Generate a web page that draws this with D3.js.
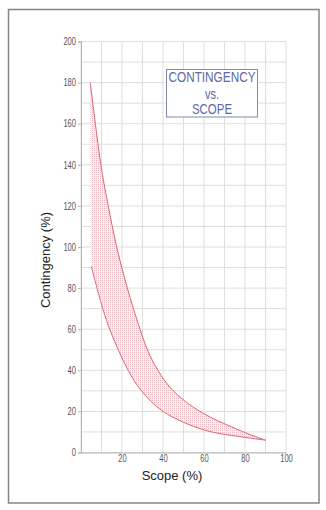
<!DOCTYPE html>
<html>
<head>
<meta charset="utf-8">
<script src="https://cdn.jsdelivr.net/npm/d3@7/dist/d3.min.js"></script>
<style>
  html, body { margin: 0; padding: 0; background: #fff; }
  svg { display: block; }
  .tick text { font-family: "Liberation Sans", Arial, sans-serif; }
</style>
</head>
<body>
<svg id="chart" width="326" height="510"></svg>
<script>
// Upper and lower bounds of contingency (%) against scope definition (%)
const upperScope = [4.5, 10, 13.3, 17.4, 22.6, 28.8, 32.4, 37.5, 45, 58, 80, 90];
const upperContingency = [180, 138, 120, 100, 80, 60, 50, 40, 30, 20, 9.7, 6];
const lowerScope = [5, 10.8, 14.1, 18.2, 23, 29.5, 40, 60, 80, 90];
const lowerContingency = [90.5, 69.4, 59.7, 50, 40, 30, 20, 11, 7.4, 6];

const xTickValues = [20, 40, 60, 80, 100];
const yTickValues = [0, 20, 40, 60, 80, 100, 120, 140, 160, 180, 200];
const titleLines = ["CONTINGENCY", "vs.", "SCOPE"];
const xTitle = "Scope (%)";
const yTitle = "Contingency (%)";

const svg = d3.select("#chart");

// Outer frame
svg.append("rect")
  .attr("x", 8.5).attr("y", 9.5).attr("width", 310.5).attr("height", 493.5)
  .attr("fill", "#fff").attr("stroke", "#858585").attr("stroke-width", 1.5);

const x = d3.scaleLinear().domain([0, 100]).range([81, 286]);
const y = d3.scaleLinear().domain([0, 200]).range([452.5, 41.5]);

// Fine dotted fill for the band
const defs = svg.append("defs");
const pat = defs.append("pattern")
  .attr("id", "hatch").attr("patternUnits", "userSpaceOnUse")
  .attr("width", 2).attr("height", 2);
pat.append("rect").attr("width", 2).attr("height", 2).attr("fill", "#fcf0f2");
pat.append("rect").attr("width", 1).attr("height", 1).attr("fill", "#ecb9c0");

// Grid every 10 units
const grid = svg.append("g");
grid.selectAll("line.v").data(d3.range(0, 101, 10)).join("line")
  .attr("x1", d => x(d)).attr("x2", d => x(d))
  .attr("y1", y(0)).attr("y2", y(200))
  .attr("stroke", "#dedede").attr("stroke-width", 1);
grid.selectAll("line.h").data(d3.range(0, 201, 10)).join("line")
  .attr("x1", x(0)).attr("x2", x(100))
  .attr("y1", d => y(d)).attr("y2", d => y(d))
  .attr("stroke", "#dedede").attr("stroke-width", 1);

// Band between the two bounds
const upperPts = upperScope.map((s, i) => [x(s), y(upperContingency[i])]);
const lowerPts = lowerScope.map((s, i) => [x(s), y(lowerContingency[i])]);
const line = d3.line().curve(d3.curveCatmullRom.alpha(0.5));
const upperPath = line(upperPts);
const lowerRevPath = line(lowerPts.slice().reverse());
svg.append("path")
  .attr("d", upperPath + "L" + lowerRevPath.slice(1) + "Z")
  .attr("fill", "url(#hatch)").attr("stroke", "none");

svg.append("path").attr("d", upperPath)
  .attr("fill", "none").attr("stroke", "#d06a78").attr("stroke-width", 1);
svg.append("path").attr("d", line(lowerPts))
  .attr("fill", "none").attr("stroke", "#d06a78").attr("stroke-width", 1);

// Axes
const yAxis = svg.append("g").attr("transform", `translate(${x(0)},0)`)
  .call(d3.axisLeft(y).tickValues(yTickValues).tickSize(3).tickPadding(2).tickFormat(d3.format("d")));
const xAxis = svg.append("g").attr("transform", `translate(0,${y(0)})`)
  .call(d3.axisBottom(x).tickValues(xTickValues).tickSize(0).tickPadding(2).tickFormat(d3.format("d")));
[yAxis, xAxis].forEach(a => {
  a.select(".domain").attr("stroke", "#b5b5b5");
  a.selectAll(".tick line").attr("stroke", "#b5b5b5");
  a.selectAll(".tick text")
    .attr("fill", "#555").attr("font-size", 10)
    .attr("textLength", function() { return this.textContent.length * 4.2; })
    .attr("lengthAdjust", "spacingAndGlyphs");
});

// Axis titles
svg.append("text")
  .attr("x", 172).attr("y", 480)
  .attr("text-anchor", "middle")
  .attr("font-family", "Liberation Sans, Arial, sans-serif")
  .attr("font-size", 13).attr("fill", "#222")
  .text(xTitle);
svg.append("text")
  .attr("transform", "translate(50,260) rotate(-90)")
  .attr("text-anchor", "middle")
  .attr("font-family", "Liberation Sans, Arial, sans-serif")
  .attr("font-size", 13).attr("fill", "#222")
  .text(yTitle);

// Title box
svg.append("rect")
  .attr("x", 166.5).attr("y", 69.5).attr("width", 91).attr("height", 47.5)
  .attr("fill", "#fff").attr("stroke", "#8088b0").attr("stroke-width", 1);
const titleY = [82.3, 98.5, 114.3];
const titleW = [87, 14, 40];
svg.selectAll("text.title").data(titleLines).join("text")
  .attr("class", "title")
  .attr("x", 212).attr("y", (d, i) => titleY[i])
  .attr("text-anchor", "middle")
  .attr("font-family", "Liberation Sans, Arial, sans-serif")
  .attr("font-size", 14.5).attr("fill", "#5d68a8")
  .attr("textLength", (d, i) => titleW[i])
  .attr("lengthAdjust", "spacingAndGlyphs")
  .text(d => d);
</script>
</body>
</html>
